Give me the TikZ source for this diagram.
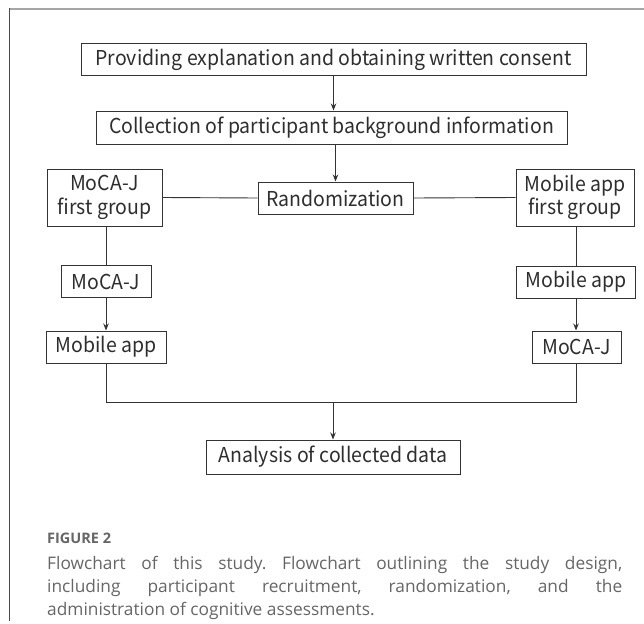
\documentclass[tikz,border=0pt]{standalone}
\usepackage{fontspec}
\setmainfont{Open Sans}
\newfontfamily\diafont[FakeStretch=0.95]{Noto Sans CJK JP}
\usetikzlibrary{arrows.meta}
\definecolor{linec}{HTML}{333333}
\definecolor{capc}{HTML}{666666}
\frenchspacing
\begin{document}
\begin{tikzpicture}[x=1pt,y=-1pt,
  box/.style={draw=linec, line width=1pt, font=\diafont\fontsize{20.5}{23.5}\selectfont,
    text=black!82, inner sep=0pt, minimum height=32pt, anchor=center, align=center},
  conn/.style={draw=linec, line width=0.9pt},
  arr/.style={conn, -{Stealth[length=7pt,width=5.5pt]}},
  capline/.style={anchor=base west, inner sep=0pt, font=\frenchspacing\fontsize{17.3}{22}\selectfont, text=capc}]
\useasboundingbox (0,0) rectangle (644,623);
\fill[white] (0,0) rectangle (644,623);
\draw[black!35, line width=2pt] (9,9) -- (644,9);
\draw[black!70, line width=1.2pt] (9.5,8) -- (9.5,621);

\node[box, minimum width=505pt] (b1) at (333.5,60) {Providing explanation and obtaining written consent};
\node[box, minimum width=471pt, minimum height=33pt] (b2) at (331.5,127.5) {Collection of participant background information};
\node[box, minimum width=155pt] (rand) at (335.5,198) {Randomization};
\node[box, minimum width=115pt, minimum height=57pt] (g1) at (104.5,197.5) {MoCA-J\\first group};
\node[box, minimum width=118pt, minimum height=57pt] (g2) at (575,197.5) {Mobile app\\first group};
\node[box, minimum width=90pt] (m1) at (106,281.5) {MoCA-J};
\node[box, minimum width=119pt] (a1) at (576,282) {Mobile app};
\node[box, minimum width=120pt] (a2) at (106,347) {Mobile app};
\node[box, minimum width=89pt] (m2) at (576.5,347) {MoCA-J};
\node[box, minimum width=254pt, minimum height=34pt] (an) at (333,457) {Analysis of collected data};

\draw[arr] (b1.south) -- (b1.south |- b2.north);
\draw[arr] (rand.north |- b2.south) -- (rand.north);
\draw[conn] (g1.east) -- (rand.west);
\draw[conn] (rand.east) -- (g2.west);
\draw[conn] (m1.north |- g1.south) -- (m1.north);
\draw[arr] (m1.south) -- (a2.north);
\draw[conn] (a1.north |- g2.south) -- (a1.north);
\draw[arr] (a1.south) -- (a1.south |- m2.north);
\coordinate (join) at (333,402);
\draw[conn] (a2.south) -- (a2.south |- join) -- (m2.south |- join) -- (m2.south);
\draw[arr] (join) -- (join |- an.north);

\node[anchor=base west, inner sep=0pt, font=\fontsize{14.5}{17}\selectfont\bfseries, text=capc] (fig) at (47,543) {FIGURE 2};
\node[capline] (cap1) at (47,569) {\makebox[575pt][s]{Flowchart of this study. Flowchart outlining the study design,}};
\node[capline] (cap2) at (47,592) {\makebox[575pt][s]{including participant recruitment, randomization, and the}};
\node[capline] (cap3) at (47,615) {administration of cognitive assessments.};
\end{tikzpicture}
\end{document}
